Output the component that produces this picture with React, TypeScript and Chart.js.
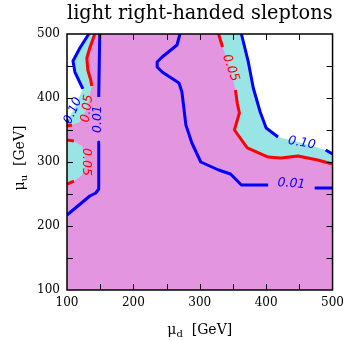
import React, { useEffect, useRef } from 'react';
import { Chart, registerables } from 'chart.js';

Chart.register(...registerables);

type P = [number, number];

// ---- axes ----
const X_RANGE: P = [100, 500];
const Y_RANGE: P = [100, 500];
const MAJOR_STEP = 100;
const MINOR_STEP = 50;
const TITLE = 'light right-handed sleptons';
const X_LABEL = { main: 'μ', sub: 'd', rest: '  [GeV]' };
const Y_LABEL = { main: 'μ', sub: 'u', rest: '  [GeV]' };

// ---- contour paths (data units: mu_d, mu_u) ----
const blue010LeftPath: P[] = [[132.8, 500], [119.4, 478.1], [109.0, 457.8], [111.9, 440.6], [123.9, 414.1], [109.0, 380.0], [101.5, 365.6], [100, 362.5]];
const blue010RightPath: P[] = [[362.7, 500], [373.1, 456.3], [380.6, 415.6], [391, 378.1], [400, 353.1], [417.9, 339.1], [453.7, 329.7], [489.6, 318.8], [500, 312.5]];
const red005LeftPath: P[] = [[141.8, 500], [134.3, 478.1], [129.9, 462.5], [131.3, 443.8], [135.8, 428.1], [137.3, 418.8], [130.6, 383.6], [119.4, 362.5], [107.5, 357.8], [100, 356.3]];
const red005BumpPath: P[] = [[100, 334.4], [110.4, 332.8], [122.4, 325], [127, 314], [128.4, 300], [127, 287], [121, 278], [110.4, 270.3], [100, 265.6]];
const red005RightPath: P[] = [[328.4, 500], [334.3, 479.7], [346.3, 446.9], [353.7, 412.5], [356.7, 390.6], [359.7, 376.6], [352.2, 350], [371.6, 321.9], [403, 307.8], [422.4, 306.3], [447.8, 309.4], [477.6, 303.1], [500, 296.9]];
const blue001LeftPath: P[] = [[149.3, 500], [147.8, 401.6], [147.0, 367], [147.8, 331.3], [147.8, 257.8], [143.3, 251.6], [134.3, 246.9], [100, 217.2]];
const blue001MidPath: P[] = [[270.1, 500], [265.7, 482.8], [243.3, 464.1], [235.8, 456.3], [235.8, 448.4], [243.3, 440.6], [268.7, 423.4], [273.1, 409.4], [279.1, 357.8], [288.1, 329.7], [301.5, 300], [328.4, 287.5], [346.3, 281.3], [362.7, 264], [403, 264], [438, 266], [473.1, 259.4], [500, 259.4]];

// contour level text, visible index ranges, label vertex and angle (deg)
const contourLevels = ['0.10', '0.10', '0.05', '0.05', '0.05', '0.01', '0.01'];
const contourPaths = [blue010LeftPath, blue010RightPath, red005LeftPath, red005BumpPath, red005RightPath, blue001LeftPath, blue001MidPath];
const contourVisible = [
  [[0, 4], [6, 7]],
  [[0, 5], [7, 8]],
  [[0, 5], [8, 9]],
  [[0, 1], [7, 8]],
  [[0, 1], [3, 12]],
  [[0, 1], [3, 7]],
  [[0, 14], [16, 17]],
];
const contourLabelIdx = [5, 6, 6, 4, 2, 2, 15];
const contourLabelAngle = [-66, 10, -82, 90, 70, -90, 4];

const BLUE = '#0000ff';
const RED = '#ff0000';
const PINK = '#e395e0';
const CYAN = '#99e5e5';
const levelColor: Record<string, string> = { '0.10': BLUE, '0.05': RED, '0.01': BLUE };

const toXY = (pts: P[]) => pts.map(([x, y]) => ({ x, y }));

function buildDatasets() {
  const [x0, x1] = X_RANGE;
  const [y0, y1] = Y_RANGE;
  const poly = (pts: P[], color: string, order: number) => ({
    type: 'line',
    data: toXY(pts),
    fill: 'shape',
    backgroundColor: color,
    borderColor: 'rgba(0,0,0,0)',
    borderWidth: 0,
    pointRadius: 0,
    pointHoverRadius: 0,
    order,
    clip: 0,
  });
  const rev = (a: P[]) => [...a].reverse();
  const ds: any[] = [];
  ds.push(poly([[x0, y0], [x1, y0], [x1, y1], [x0, y1]], PINK, 100));
  ds.push(poly([[x0, y1], ...rev(red005BumpPath), ...rev(red005LeftPath)], CYAN, 90));
  ds.push(poly([...red005RightPath, [x1, y1]], CYAN, 90));
  ds.push(poly([[x0, y1], ...rev(blue010LeftPath)], '#ffffff', 80));
  ds.push(poly([...blue010RightPath, [x1, y1]], '#ffffff', 80));
  contourPaths.forEach((path, i) => {
    const color = levelColor[contourLevels[i]];
    contourVisible[i].forEach(([a, b]) => {
      ds.push({
        type: 'line',
        data: toXY(path.slice(a, b + 1)),
        fill: false,
        borderColor: color,
        borderWidth: 3,
        pointRadius: 0,
        pointHoverRadius: 0,
        borderJoinStyle: 'round',
        borderCapStyle: 'butt',
        order: 10,
        clip: 0,
      });
    });
  });
  return ds;
}

const overlayPlugin = {
  id: 'overlay',
  afterDatasetsDraw(chart: any) {
    const { ctx, chartArea: ca, scales } = chart;
    const xs = scales.x;
    const ys = scales.y;
    // contour labels
    ctx.save();
    ctx.font = 'italic 12.5px "DejaVu Sans"';
    ctx.textAlign = 'center';
    ctx.textBaseline = 'middle';
    contourPaths.forEach((path, i) => {
      const [lx, ly] = path[contourLabelIdx[i]];
      const px = xs.getPixelForValue(lx);
      const py = ys.getPixelForValue(ly);
      ctx.save();
      ctx.translate(px, py);
      ctx.rotate((contourLabelAngle[i] * Math.PI) / 180);
      ctx.fillStyle = levelColor[contourLevels[i]];
      ctx.fillText(contourLevels[i], 0, 0);
      ctx.restore();
    });
    ctx.restore();
    // ticks (inward) and frame
    ctx.save();
    ctx.strokeStyle = '#000';
    ctx.lineWidth = 1;
    const tl = 6;
    ctx.beginPath();
    for (let v = X_RANGE[0] + MINOR_STEP; v < X_RANGE[1]; v += MINOR_STEP) {
      const px = Math.round(xs.getPixelForValue(v)) + 0.5;
      ctx.moveTo(px, ca.bottom);
      ctx.lineTo(px, ca.bottom - tl);
      ctx.moveTo(px, ca.top);
      ctx.lineTo(px, ca.top + tl);
    }
    for (let v = Y_RANGE[0] + MINOR_STEP; v < Y_RANGE[1]; v += MINOR_STEP) {
      const py = Math.round(ys.getPixelForValue(v)) + 0.5;
      ctx.moveTo(ca.left, py);
      ctx.lineTo(ca.left + tl, py);
      ctx.moveTo(ca.right, py);
      ctx.lineTo(ca.right - tl, py);
    }
    ctx.stroke();
    ctx.lineWidth = 1.5;
    ctx.strokeRect(ca.left, ca.top, ca.right - ca.left, ca.bottom - ca.top);
    ctx.restore();
  },
  afterDraw(chart: any) {
    const { ctx, chartArea: ca } = chart;
    const drawLabel = (lab: { main: string; sub: string; rest: string }) => {
      const mainFont = '14px "DejaVu Serif"';
      const subFont = '10px "DejaVu Serif"';
      ctx.font = mainFont;
      const wMain = ctx.measureText(lab.main).width;
      const wRest = ctx.measureText(lab.rest).width;
      ctx.font = subFont;
      const wSub = ctx.measureText(lab.sub).width;
      const total = wMain + wSub + wRest;
      let x = -total / 2;
      ctx.textAlign = 'left';
      ctx.textBaseline = 'alphabetic';
      ctx.fillStyle = '#000';
      ctx.font = mainFont;
      ctx.fillText(lab.main, x, 0);
      x += wMain;
      ctx.font = subFont;
      ctx.fillText(lab.sub, x, 3);
      x += wSub;
      ctx.font = mainFont;
      ctx.fillText(lab.rest, x, 0);
    };
    ctx.save();
    ctx.translate((ca.left + ca.right) / 2, 334);
    drawLabel(X_LABEL);
    ctx.restore();
    ctx.save();
    ctx.translate(24, (ca.top + ca.bottom) / 2 - 4);
    ctx.rotate(-Math.PI / 2);
    drawLabel(Y_LABEL);
    ctx.restore();
  },
};

export default function App() {
  const ref = useRef<HTMLCanvasElement | null>(null);
  useEffect(() => {
    if (!ref.current) return;
    const tickFont = { family: 'DejaVu Serif', size: 12 };
    const chart = new Chart(ref.current, {
      type: 'line',
      data: { datasets: buildDatasets() },
      options: {
        animation: false,
        responsive: false,
        devicePixelRatio: 1,
        events: [],
        layout: { padding: { left: 0, right: 15, top: 0, bottom: 0 } },
        plugins: {
          legend: { display: false },
          tooltip: { enabled: false },
          title: {
            display: true,
            text: TITLE,
            fullSize: false,
            color: '#000',
            font: { family: 'DejaVu Serif', size: 21, weight: 'normal' },
            padding: { top: 1, bottom: 7.8 },
          },
        },
        scales: {
          x: {
            type: 'linear',
            min: X_RANGE[0],
            max: X_RANGE[1],
            afterFit: (s: any) => { s.height = 50; },
            grid: { display: false, drawTicks: false },
            border: { display: false },
            ticks: { stepSize: MAJOR_STEP, color: '#000', font: tickFont, padding: 6, maxRotation: 0 },
          },
          y: {
            type: 'linear',
            min: Y_RANGE[0],
            max: Y_RANGE[1],
            afterFit: (s: any) => { s.width = 67; },
            grid: { display: false, drawTicks: false },
            border: { display: false },
            ticks: { stepSize: MAJOR_STEP, color: '#000', font: tickFont, padding: 7 },
          },
        },
      } as any,
      plugins: [overlayPlugin],
    } as any);
    return () => chart.destroy();
  }, []);
  return (
    <div style={{ position: 'fixed', left: 0, top: 0, width: 350, height: 340, background: '#fff' }}>
      <canvas ref={ref} width={350} height={340} style={{ display: 'block' }} />
    </div>
  );
}
